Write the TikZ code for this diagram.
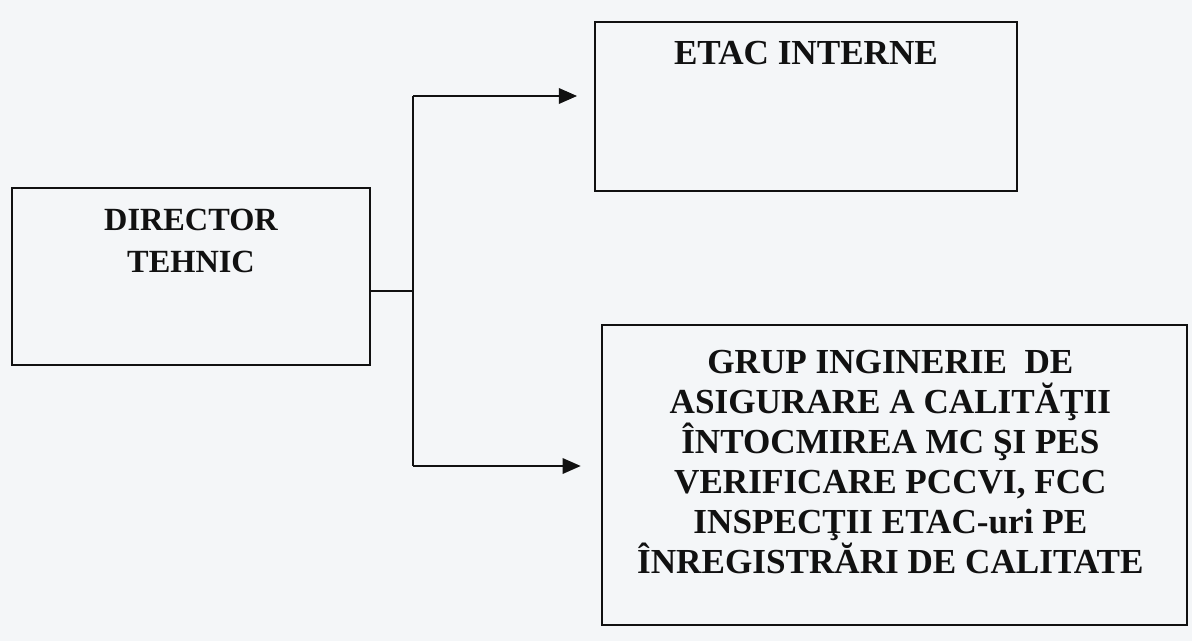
\documentclass[tikz,border=0pt]{standalone}
\usepackage{fontspec}
\setmainfont{Liberation Serif}
\usepackage{tikz}
\usetikzlibrary{arrows.meta,positioning,calc}
\usepackage{xcolor}
\definecolor{Paper}{HTML}{F4F6F8}
\definecolor{Ink}{HTML}{111111}
\tikzset{
  orgbox/.style={draw=Ink, line width=1.6pt, rectangle, inner sep=0pt,
    minimum width=#1},
  orgbox/.default={8cm},
  boxtext/.style={align=center, font=\fontsize{25}{28.5}\selectfont\bfseries,
    text=Ink, inner sep=0pt},
  tiparr/.style={-{Triangle[length=13pt,width=11pt]}, line width=1.6pt, color=Ink},
  plainln/.style={line width=1.6pt, color=Ink},
}

\begin{document}
\begin{tikzpicture}
  \fill[Paper] (0,0) rectangle (29.8,-16.025);
  \useasboundingbox (0,0) rectangle (29.8,-16.025);

  % boxes
  \node[orgbox=8.95cm, minimum height=4.425cm] (dir) at (4.775,-6.91) {};
  \node[orgbox=10.55cm, minimum height=4.225cm] (etac) at (20.15,-2.66) {};
  \node[orgbox=14.625cm, minimum height=7.5cm] (grup) at (22.36,-11.875) {};

  % texts
  \node[boxtext, font=\fontsize{23}{30}\selectfont\bfseries, anchor=north]
    (dirtxt) at ($(dir.north)+(0,-0.55)$) {DIRECTOR\\TEHNIC};
  \node[boxtext, anchor=north] (etactxt) at ($(etac.north)+(0,-0.5)$)
    {ETAC INTERNE};
  \node[boxtext, anchor=north] (gruptxt) at ($(grup.north)+(-0.1,-0.65)$)
    {GRUP INGINERIE \ DE\\ASIGURARE A CALITĂŢII\\ÎNTOCMIREA MC ŞI PES\\
     VERIFICARE PCCVI, FCC\\INSPECŢII ETAC-uri PE\\ÎNREGISTRĂRI DE CALITATE};

  % connectors
  \coordinate (split) at (10.325,-7.275);
  \coordinate (jtop) at (10.325,-2.4);
  \coordinate (jbot) at (10.325,-11.65);
  \draw[plainln] (dir.east |- split) -- (split);
  \draw[plainln] (jtop) -- (jbot);
  \draw[tiparr] (jtop) -- ([xshift=-0.42cm]etac.west |- jtop);
  \draw[tiparr] (jbot) -- ([xshift=-0.5cm]grup.west |- jbot);
\end{tikzpicture}
\end{document}
